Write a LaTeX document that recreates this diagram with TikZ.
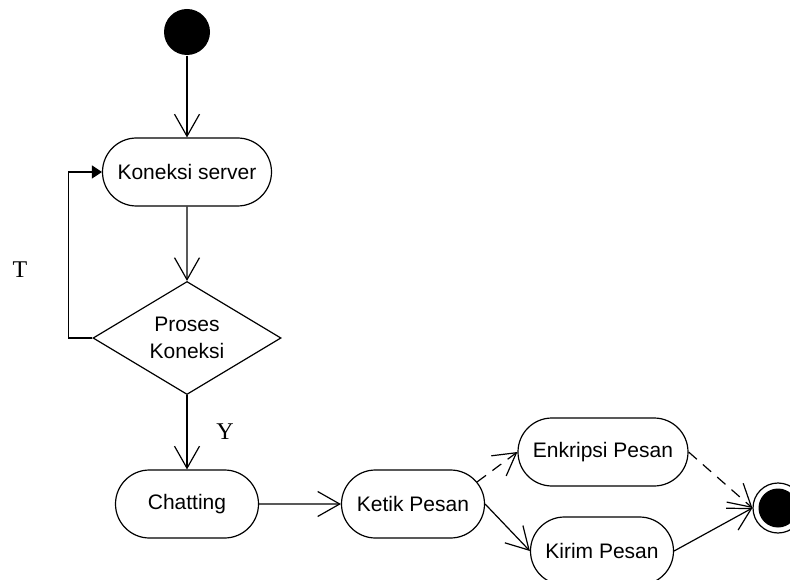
\documentclass[tikz,border=0pt]{standalone}
\usepackage{fontspec}
\setmainfont{Liberation Sans}
\newfontfamily\labelfont{Liberation Serif}
\usetikzlibrary{arrows.meta,shapes.misc,shapes.geometric}
\begin{document}
\begin{tikzpicture}[x=1pt,y=-1pt,
  line width=1.2pt,
  every node/.style={font=\fontsize{21}{27}\selectfont},
  activity/.style={draw, rounded rectangle, minimum height=68pt, inner sep=0pt},
  flow/.style={-{Straight Barb[length=22pt,width=25pt]}},
  dashflow/.style={flow, dash pattern=on 11pt off 8pt},
  loopflow/.style={-{Triangle[length=10pt,width=13pt]}},
  guard/.style={font=\fontsize{24}{28}\labelfont}
]
\clip (0,0) rectangle (790,580);

% initial and final states
\node[circle, fill=black, minimum size=46pt, inner sep=0pt] (start) at (187,32) {};
\node[circle, draw, minimum size=50pt, inner sep=0pt,
      path picture={\fill[black] (path picture bounding box.center) circle (19.5pt);}]
      (stop) at (778,508) {};

% activities
\node[activity, minimum width=169pt] (kon) at (187,172) {Koneksi server};
\node[draw, diamond, minimum width=188pt, minimum height=113pt, inner sep=0pt,
      label={[align=center]center:Proses\\Koneksi}] (dec) at (187,338) {};
\node[activity, minimum width=143pt] (chat) at (187,504) {Chatting};
\node[activity, minimum width=143pt] (ketik) at (413,504) {Ketik Pesan};
\node[activity, minimum width=170pt] (enk) at (603,452) {Enkripsi Pesan};
\node[activity, minimum width=143pt] (kirim) at (602,551) {Kirim Pesan};

% guard labels
\node[guard] (lblT) at (20,270) {T};
\node[guard] (lblY) at (225,432) {Y};

% transitions
\draw[flow] (start) -- (kon);
\draw[flow] (kon) -- (dec);
\draw[loopflow] (dec.west) -- ++(-24,0) |- (kon.west);
\draw[flow] (dec.south) -- (chat.north);
\draw[flow] (chat) -- (ketik);
\draw[dashflow] (ketik.19) -- (enk.west);
\draw[flow] (ketik.east) -- (kirim.west);
\draw[dashflow] (enk.east) -- (stop.west);
\draw[flow] (kirim.east) -- (stop.west);
\end{tikzpicture}
\end{document}
